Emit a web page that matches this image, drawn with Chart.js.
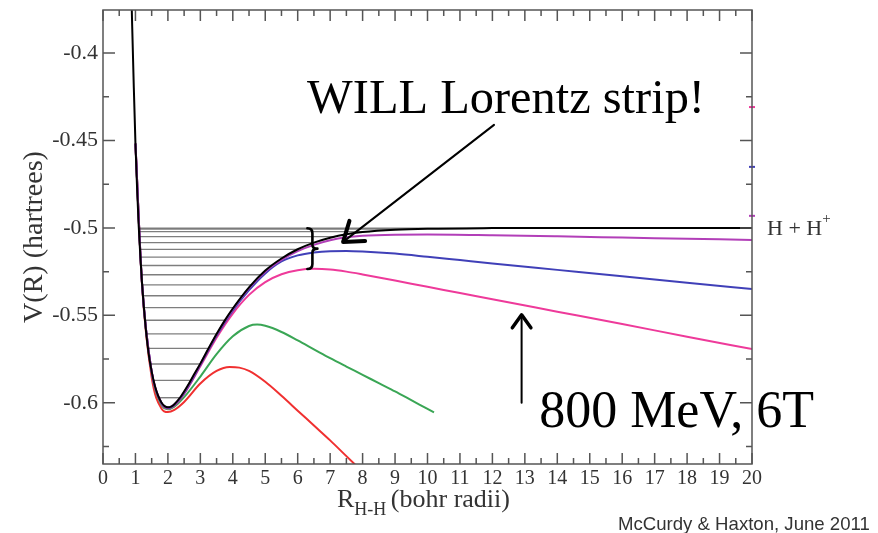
<!DOCTYPE html>
<html>
<head>
<meta charset="utf-8">
<script src="https://cdn.jsdelivr.net/npm/chart.js@4.4.1/dist/chart.umd.min.js"></script>
<style>
  body { margin: 0; background: #fff; }
</style>
</head>
<body>
<canvas id="chart" width="878" height="533"></canvas>
<script>
// H2+ potential curves V(R): field-free (black) and field-dressed (colours)
const rBlack = [0.85, 0.88, 0.9, 0.95, 1.0, 1.05, 1.1, 1.15, 1.2, 1.3, 1.4, 1.5, 1.6, 1.7, 1.8, 1.9, 2.0, 2.1, 2.2, 2.4, 2.6, 2.8, 3.0, 3.25, 3.5, 3.75, 4.0, 4.5, 5.0, 5.5, 6.0, 6.5, 7.0, 7.5, 8.0, 9, 10, 12, 14, 20];
const vBlack = [-0.345, -0.370, -0.385, -0.420, -0.4518, -0.4770, -0.4988, -0.5160, -0.5310, -0.5540, -0.5710, -0.5822, -0.5904, -0.5961, -0.5998, -0.6019, -0.6026, -0.6022, -0.6008, -0.5964, -0.5906, -0.5840, -0.5776, -0.5690, -0.5607, -0.5530, -0.5461, -0.5340, -0.5244, -0.5175, -0.5122, -0.5084, -0.5056, -0.5036, -0.5024, -0.5011, -0.5005, -0.5001, -0.5000, -0.5000];

const rPurple = [1.0, 1.2, 1.5, 1.8, 2.0, 2.2, 2.5, 3.0, 3.5, 4.0, 4.5, 5.0, 5.5, 6.0, 6.5, 7.0, 7.5, 8.0, 9, 10, 12, 14, 16, 18, 20];
const vPurple = [-0.4518, -0.5310, -0.5822, -0.5999, -0.6027, -0.6009, -0.5940, -0.5778, -0.5609, -0.5464, -0.5344, -0.5250, -0.5183, -0.5133, -0.5097, -0.5071, -0.5054, -0.5045, -0.5039, -0.5038, -0.5042, -0.5048, -0.5055, -0.5062, -0.5069];

const rBlue = [1.0, 1.2, 1.5, 1.8, 2.0, 2.2, 2.5, 3.0, 3.5, 4.0, 4.5, 5.0, 5.5, 6.0, 6.5, 7.0, 7.5, 8.0, 9, 10, 11, 12, 14, 16, 18, 20];
const vBlue = [-0.4518, -0.5310, -0.5823, -0.6002, -0.6030, -0.6012, -0.5945, -0.5784, -0.5617, -0.5473, -0.5356, -0.5260, -0.5192, -0.5157, -0.5140, -0.5133, -0.5132, -0.5135, -0.5147, -0.5165, -0.5184, -0.5203, -0.5240, -0.5277, -0.5313, -0.5350];

const rPink = [1.0, 1.2, 1.5, 1.8, 2.0, 2.2, 2.5, 3.0, 3.5, 4.0, 4.5, 5.0, 5.5, 6.0, 6.5, 7.0, 7.5, 8.0, 9, 10, 11, 12, 14, 16, 18, 20];
const vPink = [-0.4518, -0.5310, -0.5824, -0.6004, -0.6032, -0.6015, -0.5949, -0.5791, -0.5628, -0.5490, -0.5383, -0.5310, -0.5265, -0.5242, -0.5234, -0.5238, -0.5250, -0.5266, -0.5301, -0.5337, -0.5372, -0.5408, -0.5479, -0.5550, -0.5622, -0.5693];

const rGreen = [1.0, 1.2, 1.5, 1.8, 2.0, 2.2, 2.5, 3.0, 3.5, 4.0, 4.5, 4.75, 5.0, 5.5, 6.0, 6.5, 7.0, 7.5, 8.0, 8.5, 9.0, 9.5, 10.0, 10.2];
const vGreen = [-0.4518, -0.5310, -0.5826, -0.6012, -0.6037, -0.6022, -0.5968, -0.5850, -0.5722, -0.5620, -0.5561, -0.5553, -0.5560, -0.5595, -0.5643, -0.5694, -0.5745, -0.5793, -0.5840, -0.5888, -0.5935, -0.5985, -0.6035, -0.6055];

const rRed = [1.0, 1.2, 1.5, 1.8, 2.0, 2.2, 2.5, 3.0, 3.5, 3.9, 4.2, 4.5, 5.0, 5.5, 6.0, 6.5, 7.0, 7.5, 8.0];
const vRed = [-0.4518, -0.5316, -0.5855, -0.6032, -0.6053, -0.6040, -0.5995, -0.5890, -0.5818, -0.5795, -0.5799, -0.5818, -0.5880, -0.5960, -0.6045, -0.6130, -0.6215, -0.6305, -0.6395];

// bound vibrational levels of the field-free curve, with turning points
const levelE = [-0.5971, -0.5872, -0.5778, -0.5689, -0.5606, -0.5528, -0.5456, -0.5388, -0.5326, -0.5268, -0.5215, -0.5167, -0.5123, -0.5084, -0.5050, -0.5021, -0.5007, -0.5001];
const levelRin = [1.727, 1.561, 1.461, 1.388, 1.339, 1.295, 1.263, 1.234, 1.207, 1.186, 1.168, 1.152, 1.139, 1.128, 1.118, 1.110, 1.106, 1.101];
const levelRout = [2.368, 2.703, 2.994, 3.253, 3.50, 3.753, 4.02, 4.30, 4.573, 4.875, 5.21, 5.575, 5.99, 6.5, 7.15, 8.23, 9.67, 12.0];

// upper-state curves just touching the right edge at R = 20
const upperColors = ['#ee3a9a', '#4040b8', '#b23fb8'];
const upperV = [-0.4309, -0.4651, -0.4931];

const xTicks = [0, 1, 2, 3, 4, 5, 6, 7, 8, 9, 10, 11, 12, 13, 14, 15, 16, 17, 18, 19, 20];
const xTickLabels = xTicks.map(String);
const xMinor = [0.5, 1.5, 2.5, 3.5, 4.5, 5.5, 6.5, 7.5, 8.5, 9.5, 10.5, 11.5, 12.5, 13.5, 14.5, 15.5, 16.5, 17.5, 18.5, 19.5];
const yTicks = [-0.6, -0.55, -0.5, -0.45, -0.4];
const yTickLabels = ['-0.6', '-0.55', '-0.5', '-0.45', '-0.4'];
const yMinor = [-0.625, -0.575, -0.525, -0.475, -0.425];

const pts = (rs, vs) => rs.map((r, i) => ({ x: r, y: vs[i] }));

const curve = (rs, vs, color, order) => ({
  data: pts(rs, vs),
  borderColor: color,
  borderWidth: 2,
  pointRadius: 0,
  cubicInterpolationMode: 'monotone',
  order: order
});

const datasets = [
  curve(rBlack, vBlack, '#000000', 0),
  curve(rPurple, vPurple, '#b23fb8', 2),
  curve(rBlue, vBlue, '#4040b8', 3),
  curve(rPink, vPink, '#ee3a9a', 4),
  curve(rGreen, vGreen, '#3aa655', 5),
  curve(rRed, vRed, '#f03030', 6)
];
levelE.forEach((e, i) => {
  datasets.push({
    data: [{ x: levelRin[i], y: e }, { x: levelRout[i], y: e }],
    borderColor: 'rgba(40,40,40,0.6)',
    borderWidth: 1.4,
    pointRadius: 0,
    order: 1
  });
});
upperV.forEach((v, i) => {
  datasets.push({
    data: [{ x: 20, y: v }],
    showLine: false,
    pointStyle: 'line',
    pointRadius: 3,
    borderWidth: 2,
    borderColor: upperColors[i],
    clip: false,
    order: 7
  });
});

const serif = '"Liberation Serif", "Times New Roman", serif';

// draws text scaled so that it spans the given width
function fitText(ctx, text, x, y, width, family, color) {
  ctx.font = '40px ' + family;
  const size = 40 * width / ctx.measureText(text).width;
  ctx.font = size + 'px ' + family;
  ctx.fillStyle = color;
  ctx.fillText(text, x, y);
}

function arrow(ctx, x0, y0, x1, y1, head, shaftW, headW) {
  const ang = Math.atan2(y0 - y1, x0 - x1);
  ctx.lineCap = 'round';
  ctx.lineJoin = 'round';
  ctx.lineWidth = shaftW;
  ctx.beginPath();
  ctx.moveTo(x0, y0);
  ctx.lineTo(x1, y1);
  ctx.stroke();
  ctx.lineWidth = headW;
  ctx.beginPath();
  ctx.moveTo(x1 + head * Math.cos(ang + 0.62), y1 + head * Math.sin(ang + 0.62));
  ctx.lineTo(x1, y1);
  ctx.lineTo(x1 + head * Math.cos(ang - 0.62), y1 + head * Math.sin(ang - 0.62));
  ctx.stroke();
}

const frame = {
  id: 'frame',
  afterDraw(chart) {
    const { ctx, chartArea: a, scales: { x, y } } = chart;
    ctx.save();
    // box and inward ticks on all four sides
    ctx.strokeStyle = '#555';
    ctx.lineWidth = 1.5;
    ctx.strokeRect(a.left, a.top, a.right - a.left, a.bottom - a.top);
    ctx.beginPath();
    const xt = (v, len) => {
      const p = x.getPixelForValue(v);
      ctx.moveTo(p, a.bottom); ctx.lineTo(p, a.bottom - len);
      ctx.moveTo(p, a.top); ctx.lineTo(p, a.top + len);
    };
    const yt = (v, len) => {
      const p = y.getPixelForValue(v);
      ctx.moveTo(a.left, p); ctx.lineTo(a.left + len, p);
      ctx.moveTo(a.right, p); ctx.lineTo(a.right - len, p);
    };
    xTicks.forEach(v => xt(v, 11));
    xMinor.forEach(v => xt(v, 6));
    yTicks.forEach(v => yt(v, 12));
    yMinor.forEach(v => yt(v, 6));
    ctx.stroke();

    // axis titles
    ctx.fillStyle = '#333';
    ctx.textBaseline = 'alphabetic';
    ctx.textAlign = 'left';
    ctx.font = '26px ' + serif;
    ctx.fillText('R', 337, 507);
    const rw = ctx.measureText('R').width;
    ctx.font = '18px ' + serif;
    ctx.fillText('H-H', 337 + rw, 515);
    const hw = ctx.measureText('H-H ').width;
    ctx.font = '26px ' + serif;
    ctx.fillText('(bohr radii)', 337 + rw + hw, 507);

    ctx.save();
    ctx.translate(42, 237);
    ctx.rotate(-Math.PI / 2);
    ctx.textAlign = 'center';
    ctx.font = '28px ' + serif;
    ctx.fillText('V(R) (hartrees)', 0, 0);
    ctx.restore();

    // dissociation limit label
    const hx = x.getPixelForValue(20) + 15;
    const hy = y.getPixelForValue(-0.5) + 7;
    ctx.font = '22px ' + serif;
    ctx.fillText('H + H', hx, hy);
    const w = ctx.measureText('H + H').width;
    ctx.font = '15px ' + serif;
    ctx.fillText('+', hx + w, hy - 12);

    // annotations
    ctx.strokeStyle = '#000';
    fitText(ctx, 'WILL Lorentz strip!', x.getPixelForValue(6.29), y.getPixelForValue(-0.4343), 398, serif, '#000');
    fitText(ctx, '800 MeV, 6T', x.getPixelForValue(13.44), y.getPixelForValue(-0.6137), 275, serif, '#000');
    arrow(ctx, x.getPixelForValue(12.05), y.getPixelForValue(-0.4411),
      x.getPixelForValue(7.4), y.getPixelForValue(-0.508), 22, 2, 4);
    arrow(ctx, x.getPixelForValue(12.9), y.getPixelForValue(-0.6),
      x.getPixelForValue(12.9), y.getPixelForValue(-0.5497), 16, 2, 3.5);

    // brace grouping the field-dressed barrier tops
    const bx = x.getPixelForValue(6.33);
    const bt = y.getPixelForValue(-0.5002);
    const bb = y.getPixelForValue(-0.5235);
    const bm = (bt + bb) / 2;
    ctx.lineWidth = 2.6;
    ctx.lineCap = 'round';
    ctx.beginPath();
    ctx.moveTo(bx - 1, bt);
    ctx.quadraticCurveTo(bx + 4, bt, bx + 4, bt + 5);
    ctx.lineTo(bx + 4, bm - 4);
    ctx.quadraticCurveTo(bx + 4, bm, bx + 9, bm);
    ctx.quadraticCurveTo(bx + 4, bm, bx + 4, bm + 4);
    ctx.lineTo(bx + 4, bb - 5);
    ctx.quadraticCurveTo(bx + 4, bb, bx - 1, bb);
    ctx.stroke();

    // credit line
    fitText(ctx, 'McCurdy & Haxton, June 2011', 618, 530, 252, '"Liberation Sans", Arial, sans-serif', '#333');
    ctx.restore();
  }
};

new Chart(document.getElementById('chart'), {
  type: 'line',
  data: { datasets: datasets },
  options: {
    responsive: false,
    animation: false,
    layout: { padding: { left: 0, top: 10, right: 126, bottom: 0 } },
    plugins: { legend: { display: false }, tooltip: { enabled: false } },
    scales: {
      x: {
        type: 'linear',
        min: 0,
        max: 20,
        grid: { display: false, drawTicks: false },
        border: { display: false },
        afterBuildTicks: s => { s.ticks = xTicks.map(v => ({ value: v })); },
        afterFit: s => { s.height = 69; s.paddingLeft = 0; s.paddingRight = 0; },
        ticks: {
          autoSkip: false,
          maxRotation: 0,
          padding: 3,
          color: '#333',
          font: { family: serif, size: 20 },
          callback: (v) => xTickLabels[xTicks.indexOf(v)]
        }
      },
      y: {
        type: 'linear',
        min: -0.635,
        max: -0.3754,
        grid: { display: false, drawTicks: false },
        border: { display: false },
        afterBuildTicks: s => { s.ticks = yTicks.map(v => ({ value: v })); },
        afterFit: s => { s.width = 103; s.paddingTop = 0; s.paddingBottom = 0; },
        ticks: {
          padding: 5,
          color: '#333',
          font: { family: serif, size: 22 },
          callback: (v) => yTickLabels[yTicks.indexOf(v)]
        }
      }
    }
  },
  plugins: [frame]
});
</script>
</body>
</html>
